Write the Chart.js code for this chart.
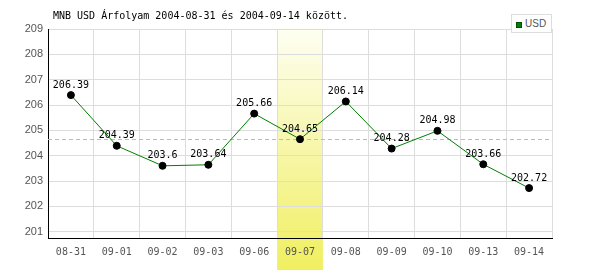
<!DOCTYPE html>
<html>
<head>
<meta charset="utf-8">
<script src="https://cdn.jsdelivr.net/npm/chart.js@4/dist/chart.umd.min.js"></script>
<style>
  html, body { margin: 0; padding: 0; background: #fff; }
  #wrap { position: relative; width: 600px; height: 270px; }
  #legend {
    position: absolute; left: 511px; top: 14px; width: 39px; height: 17px;
    border: 1px solid #ddd; background: #fff; box-sizing: content-box;
    font: 10px "Liberation Sans Narrow", "Liberation Sans", Arial, sans-serif; color: #555;
  }
  #legend .sw {
    position: absolute; left: 4px; top: 7px; width: 4px; height: 4px;
    background: #008000; border: 1px solid #005000;
  }
  #legend .tx { position: absolute; left: 13px; top: 3px; }
</style>
</head>
<body>
<div id="wrap">
  <canvas id="myChart" width="600" height="270"></canvas>
  <div id="legend"><span class="sw"></span><span class="tx">USD</span></div>
</div>
<script>
// MNB USD exchange rate, 2004-08-31 .. 2004-09-14

var labels = ['08-31', '09-01', '09-02', '09-03', '09-06', '09-07', '09-08', '09-09', '09-10', '09-13', '09-14'];
var usd = [206.39, 204.39, 203.6, 203.64, 205.66, 204.65, 206.14, 204.28, 204.98, 203.66, 202.72];
var yTicks = [201, 202, 203, 204, 205, 206, 207, 208, 209];
var selected = 5;
var titleText = 'MNB USD Árfolyam 2004-08-31 és 2004-09-14 között.';

var mono = '"DejaVu Sans Mono", monospace';

var decor = {
    id: 'decor',
    beforeDraw(chart) {
        var ctx = chart.ctx, x = chart.scales.x;
        var left = x.getPixelForValue(selected - 0.5);
        var right = x.getPixelForValue(selected + 0.5);
        var g = ctx.createLinearGradient(0, chart.chartArea.top, 0, chart.height);
        g.addColorStop(0, '#fefef2');
        g.addColorStop(1, '#f0ef60');
        ctx.save();
        ctx.fillStyle = '#fff';
        ctx.fillRect(0, 0, chart.width, chart.height);
        ctx.fillStyle = g;
        ctx.fillRect(left, chart.chartArea.top - 1, right - left, chart.height - chart.chartArea.top + 1);
        ctx.restore();
    },
    beforeDatasetsDraw(chart) {
        var ctx = chart.ctx, a = chart.chartArea;
        var y = chart.scales.y.getPixelForValue(usd[selected]);
        ctx.save();
        ctx.strokeStyle = '#a8c8a8';
        ctx.lineWidth = 1;
        ctx.setLineDash([4, 3]);
        ctx.beginPath();
        ctx.moveTo(a.left, Math.round(y) + 0.5);
        ctx.lineTo(a.right, Math.round(y) + 0.5);
        ctx.stroke();
        ctx.restore();
    },
    afterDatasetsDraw(chart) {
        var ctx = chart.ctx;
        var pts = chart.getDatasetMeta(0).data;
        ctx.save();
        ctx.font = '10px ' + mono;
        ctx.fillStyle = '#000';
        ctx.textAlign = 'center';
        ctx.textBaseline = 'bottom';
        pts.forEach((p, i) => ctx.fillText(String(usd[i]), p.x, p.y - 5));
        ctx.textAlign = 'left';
        ctx.textBaseline = 'alphabetic';
        ctx.fillText(titleText, 53, 19);
        ctx.restore();
    }
};

const config = {
    type: 'line',
    data: {
        labels: labels,
        datasets: [{
            label: 'USD',
            data: usd,
            borderColor: '#008000',
            borderWidth: 1,
            pointBackgroundColor: '#000',
            pointBorderColor: '#000',
            pointRadius: 3.5,
            tension: 0
        }]
    },
    options: {
        responsive: false,
        animation: false,
        layout: { padding: { top: 29, right: 48, left: 0, bottom: 0 } },
        plugins: { legend: { display: false }, tooltip: { enabled: false } },
        scales: {
            x: {
                offset: true,
                grid: { color: '#dddddd', offset: true, drawTicks: false },
                border: { color: '#000', width: 1 },
                ticks: { color: '#555', font: { family: mono, size: 10 }, padding: 8, maxRotation: 0 },
                afterFit(s) { s.height = 32; }
            },
            y: {
                min: 200.75,
                max: 209,
                grid: { color: '#dddddd', drawTicks: false },
                border: { color: '#000', width: 1 },
                ticks: { color: '#555', font: { family: '"Liberation Sans", Arial, sans-serif', size: 11 }, padding: 5 },
                afterBuildTicks(s) { s.ticks = yTicks.map(v => ({ value: v })); },
                afterFit(s) { s.width = 48; }
            }
        }
    },
    plugins: [decor]
};

var myChart = new Chart(document.getElementById('myChart'), config);
</script>
</body>
</html>
